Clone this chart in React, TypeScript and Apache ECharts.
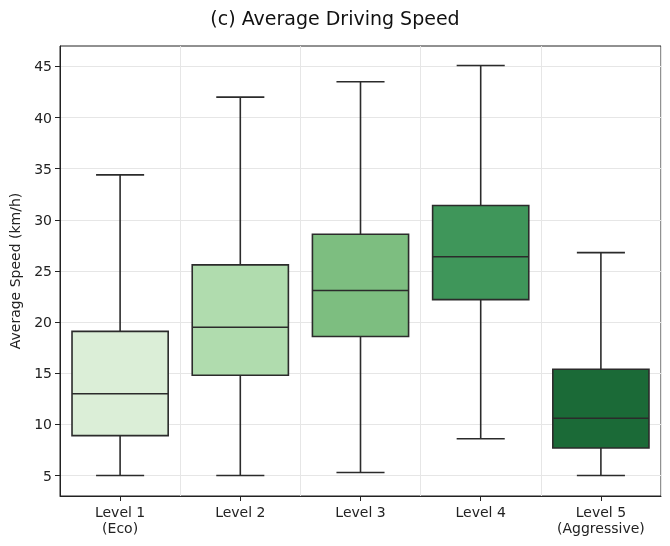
import React, { useEffect, useRef } from 'react';
import * as echarts from 'echarts';

const levels = ['Level 1\n(Eco)', 'Level 2', 'Level 3', 'Level 4', 'Level 5\n(Aggressive)'];
const lows = [5.0, 5.0, 5.3, 8.6, 5.0];
const q1s = [8.9, 14.8, 18.6, 22.2, 7.7];
const medians = [13.0, 19.5, 23.1, 26.4, 10.6];
const q3s = [19.1, 25.6, 28.6, 31.4, 15.4];
const highs = [34.4, 42.0, 43.5, 45.1, 26.8];
const colors = ['#dbeed7', '#b0dcae', '#7dbe80', '#3f965a', '#1b6a37'];
const yTicks = [5, 10, 15, 20, 25, 30, 35, 40, 45];

const App: React.FC = () => {
  const ref = useRef<HTMLDivElement>(null);

  useEffect(() => {
    if (!ref.current) return undefined;
    const chart = echarts.init(ref.current, null, { renderer: 'svg' });
    const font = 'DejaVu Sans';
    const stroke = { stroke: '#2b2b2b', lineWidth: 1.6 };
    chart.setOption({
      animation: false,
      textStyle: { fontFamily: font },
      title: {
        text: '(c) Average Driving Speed',
        left: 'center',
        top: 3,
        textStyle: { fontFamily: font, fontSize: 19, fontWeight: 'normal', color: '#111' },
      },
      grid: { left: 60, right: 9, top: 46, bottom: 50, show: true, borderColor: '#222', borderWidth: 1 },
      xAxis: {
        type: 'category',
        data: levels,
        axisLine: { lineStyle: { color: '#222' } },
        axisTick: { show: true, interval: 0, alignWithLabel: true, length: 5, lineStyle: { color: '#222' } },
        axisLabel: { color: '#222', fontSize: 14, lineHeight: 16, interval: 0, margin: 8 },
        splitLine: { show: true, interval: 0, lineStyle: { color: '#e6e6e6' } },
      },
      yAxis: {
        type: 'value',
        min: 3.0,
        max: 47.0,
        name: 'Average Speed (km/h)',
        nameLocation: 'middle',
        nameGap: 38,
        nameTextStyle: { fontSize: 14, color: '#222' },
        axisLine: { show: true, lineStyle: { color: '#222' } },
        axisTick: { show: true, length: 5, customValues: yTicks, lineStyle: { color: '#222' } },
        axisLabel: { customValues: yTicks, color: '#222', fontSize: 14 },
        splitLine: { show: true, lineStyle: { color: '#e6e6e6' } },
      },
      series: [
        {
          type: 'custom',
          data: levels.map((_, i) => [i, lows[i], q1s[i], medians[i], q3s[i], highs[i]]),
          encode: { x: 0, y: [1, 2, 3, 4, 5] },
          renderItem: (params: any, api: any) => {
            const i = api.value(0);
            const [x, yLow] = api.coord([i, api.value(1)]);
            const yQ1 = api.coord([i, api.value(2)])[1];
            const yMed = api.coord([i, api.value(3)])[1];
            const yQ3 = api.coord([i, api.value(4)])[1];
            const yHigh = api.coord([i, api.value(5)])[1];
            const bw = api.size([1, 0])[0] * 0.8;
            const cw = bw / 2;
            return {
              type: 'group',
              children: [
                { type: 'line', shape: { x1: x, y1: yLow, x2: x, y2: yQ1 }, style: stroke },
                { type: 'line', shape: { x1: x, y1: yQ3, x2: x, y2: yHigh }, style: stroke },
                { type: 'line', shape: { x1: x - cw / 2, y1: yLow, x2: x + cw / 2, y2: yLow }, style: stroke },
                { type: 'line', shape: { x1: x - cw / 2, y1: yHigh, x2: x + cw / 2, y2: yHigh }, style: stroke },
                {
                  type: 'rect',
                  shape: { x: x - bw / 2, y: yQ3, width: bw, height: yQ1 - yQ3 },
                  style: { fill: colors[i], ...stroke },
                },
                { type: 'line', shape: { x1: x - bw / 2, y1: yMed, x2: x + bw / 2, y2: yMed }, style: stroke },
              ],
            };
          },
        },
      ],
    });
    return () => chart.dispose();
  }, []);

  return <div ref={ref} style={{ position: 'fixed', left: 0, top: 0, width: 670, height: 546 }} />;
};

export default App;
